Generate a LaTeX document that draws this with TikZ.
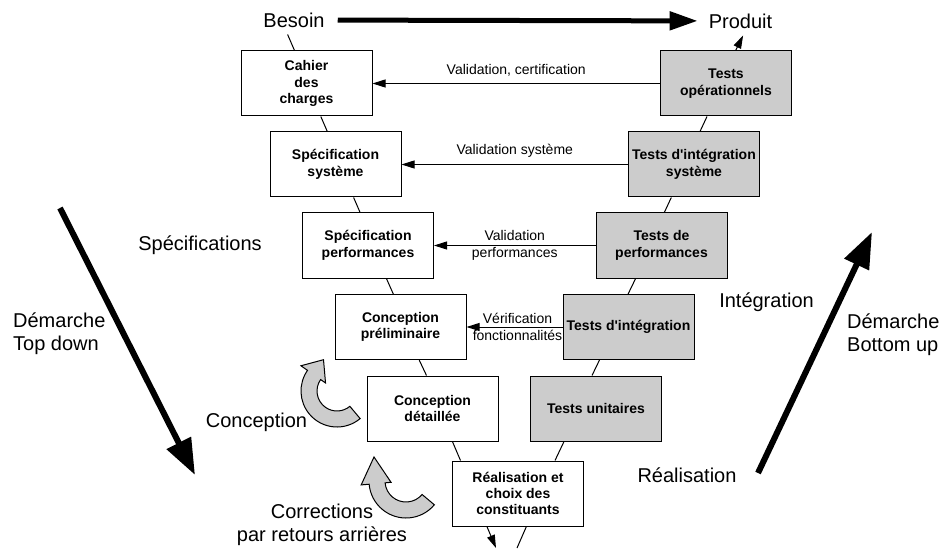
\documentclass[tikz,border=0pt]{standalone}
\usepackage{fontspec}
\setmainfont{Liberation Sans}
\usepackage{tikz}
\usetikzlibrary{arrows.meta}

\begin{document}
\begin{tikzpicture}[x=0.5pt, y=-0.5pt, line width=0.5pt,
  etape/.style={draw, minimum width=65.5pt, minimum height=32.5pt, inner sep=1pt, align=center, font=\fontsize{7}{8.2}\selectfont\bfseries},
  test/.style={etape, fill=black!20},
  libre/.style={font=\fontsize{10}{11.5}\selectfont},
  petit/.style={font=\fontsize{7}{8.2}\selectfont, align=center},
  fleche/.style={-{Triangle[length=6.5pt,width=4pt]}},
  grosse/.style={line width=3pt, -{Triangle[length=18pt,width=13pt]}},
  boucle/.style={draw, fill=black!20, line width=0.5pt}]

\useasboundingbox (0,0) rectangle (945,550);

\coordinate (td1) at (60, 208);
\coordinate (td2) at (195, 475);
\coordinate (bu1) at (758, 473);
\coordinate (bu2) at (872, 232);
\coordinate (vl) at (496, 548);
\coordinate (vr) at (517, 548);

\node[libre] (besoin) at (294, 20) {Besoin};
\node[libre] (produit) at (740.5, 21) {Produit};

% branche descendante
\node[etape] (cdc) at (306.5, 83.5) {Cahier\\des\\charges};
\node[etape] (specsys) at (335.5, 164.5) {Spécification\\système};
\node[etape] (specperf) at (368, 245.5) {Spécification\\performances};
\node[etape] (concprel) at (400.5, 327) {Conception\\préliminaire};
\node[etape] (concdet) at (432.5, 408.5) {Conception\\détaillée};
\node[etape] (real) at (518, 493.5) {Réalisation et\\choix des\\constituants};

% branche montante
\node[test] (testop) at (726, 83.5) {Tests\\opérationnels};
\node[test] (testintsys) at (694, 164.5) {Tests d\textquotesingle intégration\\système};
\node[test] (testperf) at (661.5, 245.5) {Tests de\\performances};
\node[test] (testint) at (628.5, 327) {Tests d\textquotesingle intégration};
\node[test] (testunit) at (596, 408.5) {Tests unitaires};

\node[libre] (lspec) at (200, 245) {Spécifications};
\node[libre] (lconc) at (256.5, 422) {Conception};
\node[libre, align=center] (lcorr) at (322, 524.5) {Corrections\\par retours arrières};
\node[libre] (linteg) at (766.5, 302) {Intégration};
\node[libre] (lreal) at (687, 475) {Réalisation};
\node[libre, align=left, anchor=west] (ltopdown) at (6, 334) {Démarche\\Top down};
\node[libre, align=left, anchor=west] (lbottomup) at (840, 335) {Démarche\\Bottom up};

\draw[line width=2.5pt, -{Triangle[length=14pt,width=9pt]}, shorten <=3pt, shorten >=2pt] (besoin) -- (produit);
\draw[grosse] (td1) -- (td2);
\draw[grosse] (bu1) -- (bu2);

% le V
\draw ([xshift=-3.2pt]besoin.south) -- ([xshift=-6pt]cdc.north);
\draw ([xshift=7.15pt]cdc.south) -- ([xshift=-4.1pt]specsys.north);
\draw ([xshift=9.05pt]specsys.south) -- ([xshift=-3.95pt]specperf.north);
\draw ([xshift=9.2pt]specperf.south) -- ([xshift=-3.6pt]concprel.north);
\draw ([xshift=9.35pt]concprel.south) -- ([xshift=-3pt]concdet.north);
\draw ([xshift=9.95pt]concdet.south) -- ([xshift=-28.75pt]real.north);
\draw[fleche] ([xshift=-15.55pt]real.south) -- (vl);

\draw[fleche] ([xshift=4.8pt]testop.north) -- ([xshift=1.3pt]produit.south);
\draw ([xshift=-9.5pt]testop.south) -- ([xshift=3pt]testintsys.north);
\draw ([xshift=-11.35pt]testintsys.south) -- ([xshift=1.4pt]testperf.north);
\draw ([xshift=-12.95pt]testperf.south) -- ([xshift=-0.2pt]testint.north);
\draw ([xshift=-14.5pt]testint.south) -- ([xshift=-2pt]testunit.north);
\draw ([xshift=-16pt]testunit.south) -- ([xshift=18.5pt]real.north);
\draw ([xshift=4.2pt]real.south) -- (vr);

% validations
\draw[fleche] (testop) -- node[petit, above]{Validation, certification} (cdc);
\draw[fleche] (testintsys) -- node[petit, above]{Validation système} (specsys);
\draw[fleche] (testperf) -- node[petit]{Validation\\performances} (specperf);
\draw[fleche] (testint) -- node[petit, xshift=1.5pt]{Vérification\\fonctionnalités} (concprel);

% boucles
\begin{scope}[shift={(337,391)}]
\draw[boucle] (50:36) arc[start angle=50, end angle=215, radius=36] -- (215:44) -- (-13.5,-31.3) -- (215:14) -- (215:20) arc[start angle=215, end angle=50, radius=20] -- cycle;
\end{scope}
\begin{scope}[shift={(406,481)}]
\draw[boucle] (40:37) arc[start angle=40, end angle=175, radius=37] -- (175:45) -- (-32,-24) -- (175:15) -- (175:21) arc[start angle=175, end angle=40, radius=21] -- cycle;
\end{scope}

\end{tikzpicture}
\end{document}
